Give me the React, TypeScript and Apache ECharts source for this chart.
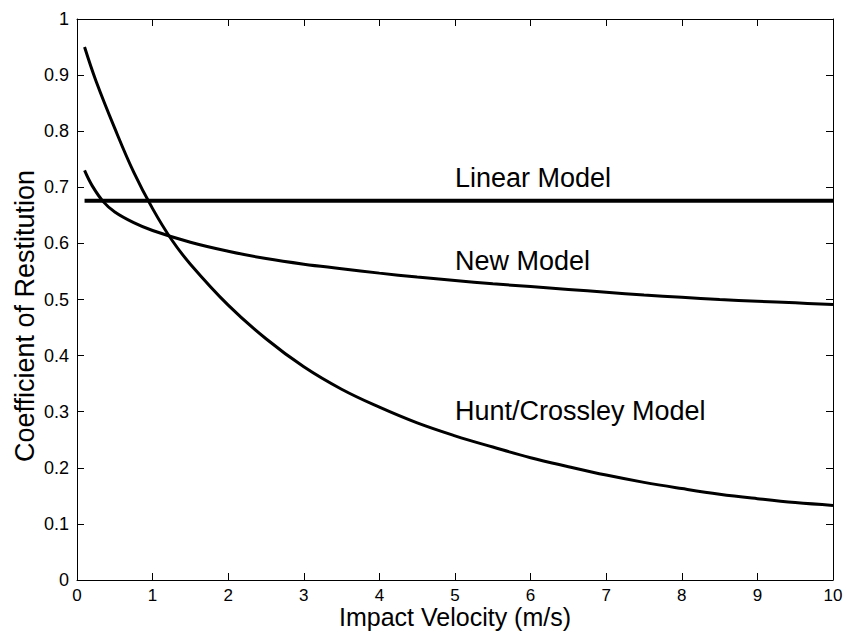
import React, { useEffect, useRef } from "react";
import * as echarts from "echarts";

const hcVelocity = [0.1, 0.25, 0.5, 0.75, 1.0, 1.25, 1.5, 2.0, 2.5, 3.0, 3.5, 4.0, 4.5, 5.0, 5.5, 6.0, 6.5, 7.0, 7.5, 8.0, 8.5, 9.0, 9.5, 10.0];
const hcValues = [0.95, 0.89, 0.805, 0.727, 0.662, 0.607, 0.563, 0.49, 0.43, 0.38, 0.34, 0.308, 0.28, 0.257, 0.237, 0.218, 0.202, 0.187, 0.174, 0.163, 0.153, 0.145, 0.138, 0.133];

const newVelocity = [0.1, 0.2, 0.35, 0.5, 0.75, 1.0, 1.5, 2.0, 2.5, 3.0, 3.5, 4.0, 4.5, 5.0, 5.5, 6.0, 6.5, 7.0, 7.5, 8.0, 8.5, 9.0, 9.5, 10.0];
const newValues = [0.73, 0.703, 0.674, 0.656, 0.637, 0.623, 0.602, 0.586, 0.573, 0.563, 0.555, 0.547, 0.54, 0.534, 0.528, 0.523, 0.518, 0.513, 0.508, 0.504, 0.5, 0.497, 0.494, 0.491];

const linearVelocity = [0.1, 10.0];
const linearValues = [0.676, 0.676];

const xTitle = "Impact Velocity (m/s)";
const yTitle = "Coefficient of Restitution";
const labels = ["Linear Model", "New Model", "Hunt/Crossley Model"];

const FONT = "Liberation Sans, Arial, Helvetica, sans-serif";

function zip(xs: number[], ys: number[]) {
  return xs.map((x, i) => [x, ys[i]]);
}

export default function App() {
  const ref = useRef<HTMLDivElement>(null);
  useEffect(() => {
    if (!ref.current) return;
    const chart = echarts.init(ref.current, null, { renderer: "svg" });
    const axisCommon = {
      type: "value" as const,
      axisLine: { show: true, onZero: false, lineStyle: { color: "#000", width: 1 } },
      axisTick: { show: true, inside: true, length: 7, lineStyle: { color: "#000", width: 1 } },
      splitLine: { show: false },
    };
    chart.setOption({
      animation: false,
      backgroundColor: "#fff",
      grid: { left: 77, top: 19, right: 13, bottom: 57, containLabel: false, outerBoundsMode: "none" },
      xAxis: [
        {
          ...axisCommon,
          min: 0,
          max: 10,
          interval: 1,
          position: "bottom",
          axisLabel: { color: "#000", fontSize: 17, lineHeight: 16, fontFamily: FONT, margin: 7 },
        },
        {
          ...axisCommon,
          min: 0,
          max: 10,
          interval: 1,
          position: "top",
          axisLabel: { show: false },
        },
      ],
      yAxis: [
        {
          ...axisCommon,
          min: 0,
          max: 1,
          interval: 0.1,
          position: "left",
          axisLabel: { color: "#000", fontSize: 18, fontFamily: FONT, margin: 8 },
        },
        {
          ...axisCommon,
          min: 0,
          max: 1,
          interval: 0.1,
          position: "right",
          axisLabel: { show: false },
        },
      ],
      series: [
        {
          type: "line",
          name: labels[0],
          data: zip(linearVelocity, linearValues),
          symbol: "none",
          lineStyle: { color: "#000", width: 4 },
        },
        {
          type: "line",
          name: labels[1],
          data: zip(newVelocity, newValues),
          symbol: "none",
          smooth: 0.4,
          lineStyle: { color: "#000", width: 3 },
        },
        {
          type: "line",
          name: labels[2],
          data: zip(hcVelocity, hcValues),
          symbol: "none",
          smooth: 0.4,
          lineStyle: { color: "#000", width: 3 },
        },
      ],
      graphic: [
        {
          type: "text",
          left: 455,
          top: 164,
          style: { text: labels[0], fontSize: 27, fontFamily: FONT, fill: "#000" },
        },
        {
          type: "text",
          left: 455,
          top: 247,
          style: { text: labels[1], fontSize: 27, fontFamily: FONT, fill: "#000" },
        },
        {
          type: "text",
          left: 455,
          top: 397,
          style: { text: labels[2], fontSize: 27, fontFamily: FONT, fill: "#000" },
        },
        {
          type: "text",
          x: 455,
          y: 617,
          style: { text: xTitle, fontSize: 25, lineHeight: 20, fontFamily: FONT, fill: "#000", align: "center", verticalAlign: "middle" },
        },
        {
          type: "text",
          x: 25,
          y: 316,
          rotation: Math.PI / 2,
          style: { text: yTitle, fontSize: 27, fontFamily: FONT, fill: "#000", align: "center", verticalAlign: "middle" },
        },
      ],
    });
    return () => chart.dispose();
  }, []);
  return (
    <div
      ref={ref}
      style={{ position: "fixed", left: 0, top: 0, width: 846, height: 637, background: "#fff" }}
    />
  );
}
